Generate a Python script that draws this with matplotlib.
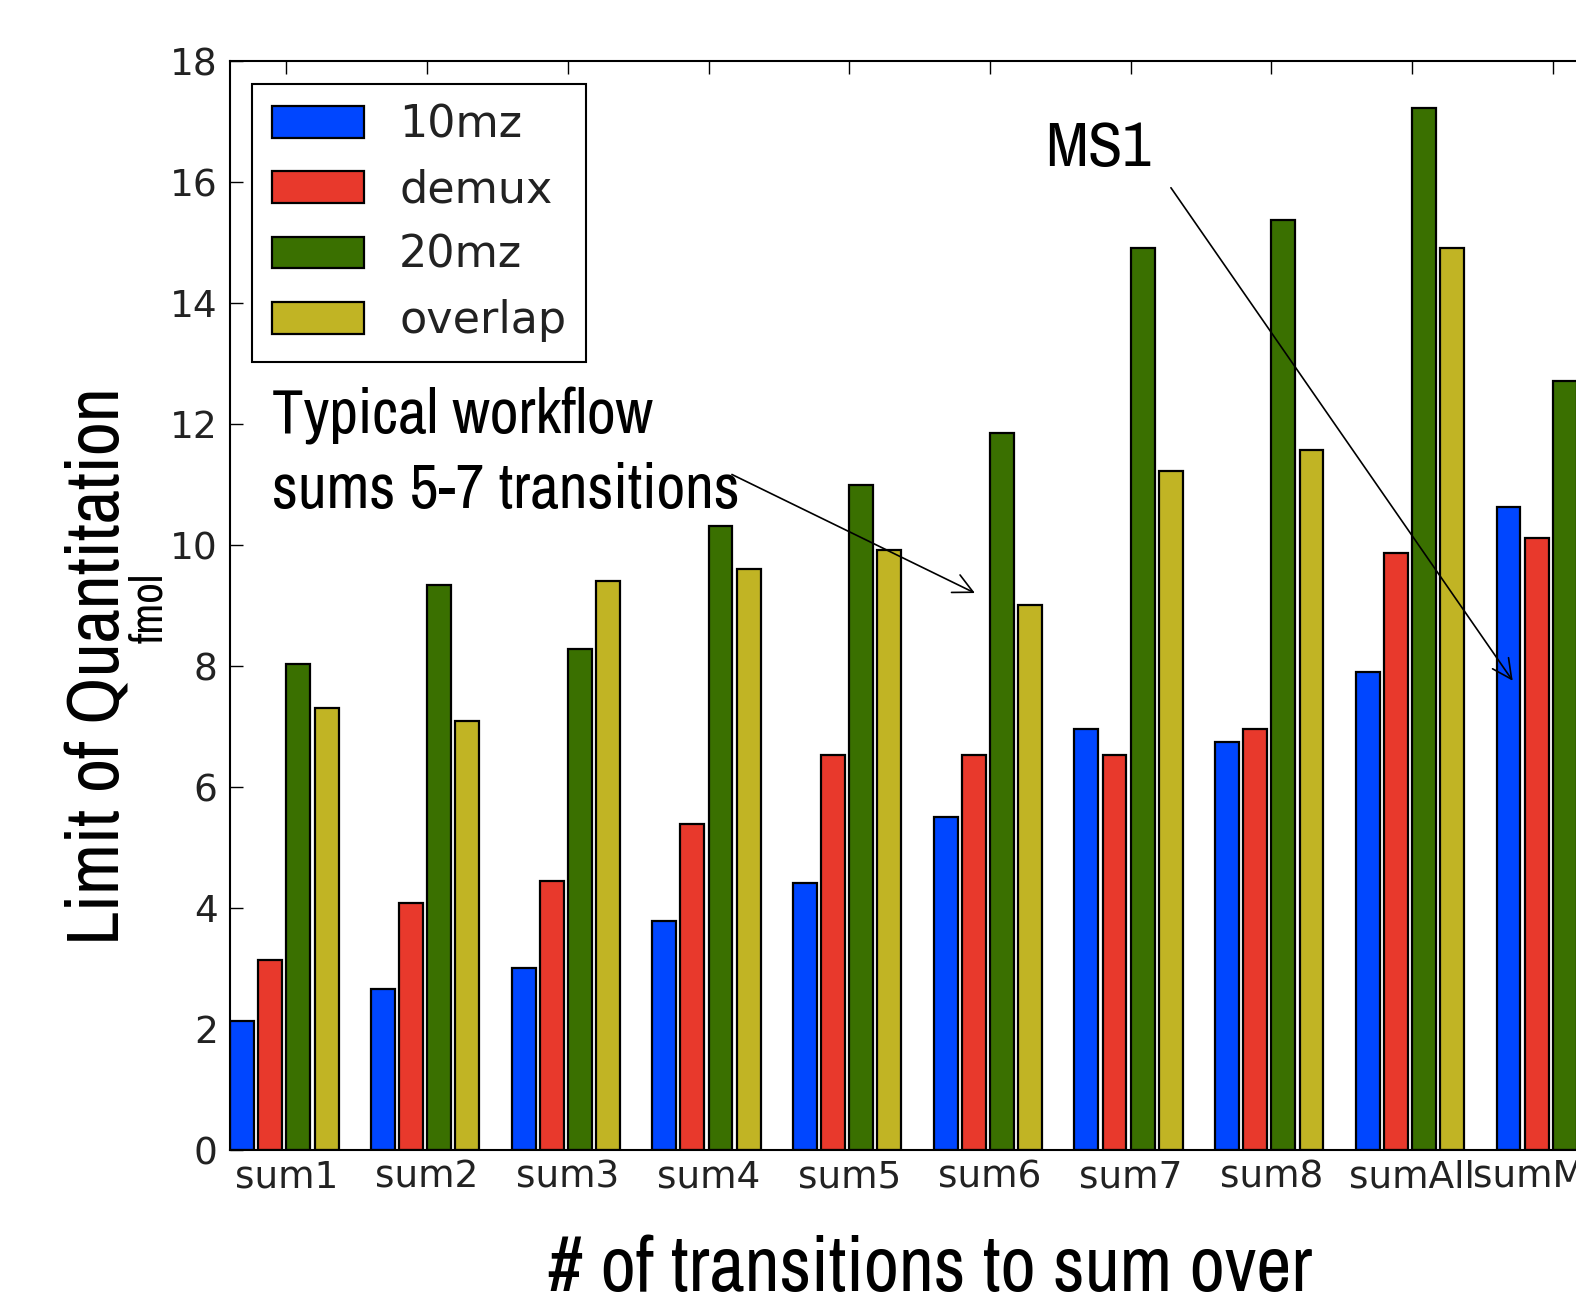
import numpy as np
import matplotlib
matplotlib.use("Agg")
import matplotlib.pyplot as plt
from matplotlib import font_manager as fm

# ---------------- data ----------------
categories = ["sum1", "sum2", "sum3", "sum4", "sum5", "sum6", "sum7", "sum8", "sumAll", "sumMS1"]
series_names = ["10mz", "demux", "20mz", "overlap"]
vals_10mz = [2.13, 2.66, 3.02, 3.79, 4.42, 5.50, 6.96, 6.75, 7.91, 10.64]
vals_demux = [3.14, 4.09, 4.45, 5.40, 6.53, 6.53, 6.53, 6.96, 9.87, 10.12]
vals_20mz = [8.03, 9.34, 8.28, 10.32, 10.99, 11.85, 14.92, 15.37, 17.22, 12.71]
vals_overlap = [7.31, 7.10, 9.41, 9.61, 9.92, 9.01, 11.22, 11.58, 14.92, 11.20]
yticks = [0, 2, 4, 6, 8, 10, 12, 14, 16, 18]

colors = ["#0046ff", "#e8392c", "#3a7000", "#c1b424"]

# ---------------- fonts ----------------
names = {f.name for f in fm.fontManager.ttflist}
NARROW = "Liberation Sans"
for cand in ["Liberation Sans Narrow", "Archivo Narrow", "Roboto Condensed", "PT Sans Narrow"]:
    if cand in names:
        NARROW = cand
        break

W, H = 1576, 1293
fig = plt.figure(figsize=(W / 100, H / 100), dpi=100)
fig.patch.set_facecolor("white")

# axes extends past the right edge of the figure (cropped like the reference)
left_px, right_px, top_px, bot_px = 230.2, 1637.2, 61.3, 1150.2
ax = fig.add_axes([left_px / W, 1 - bot_px / H, (right_px - left_px) / W, (bot_px - top_px) / H])

ind = np.arange(len(categories))
width = 0.17
all_vals = [vals_10mz, vals_demux, vals_20mz, vals_overlap]
for k, (v, c, n) in enumerate(zip(all_vals, colors, series_names)):
    ax.bar(ind + 0.2 * k, v, width, align="edge", color=c, edgecolor="black",
           linewidth=1.6, label=n, zorder=2)

ax.set_xlim(0, len(categories))
ax.set_ylim(0, 18)
ax.set_yticks(yticks)
ax.set_xticks(ind + 0.4)
ax.set_xticklabels(categories)
ax.tick_params(axis="both", direction="in", length=9.5, width=1.0, labelsize=27,
               top=True, right=True, colors="black")
ax.tick_params(axis="y", pad=9)
ax.tick_params(axis="x", pad=7)
for lab in ax.get_xticklabels() + ax.get_yticklabels():
    lab.set_color("#222222")
for s in ax.spines.values():
    s.set_linewidth(1.5)

leg = ax.legend(loc="upper left", fontsize=32, frameon=True, fancybox=False,
                handlelength=2.05, handleheight=0.72, handletextpad=0.8,
                labelspacing=0.5, borderpad=0.45, borderaxespad=0.5)
leg.get_frame().set_edgecolor("black")
leg.get_frame().set_linewidth(1.5)
leg.get_frame().set_alpha(1)
for t in leg.get_texts():
    t.set_color("#222222")

# arrows (data coordinates)
arrow_kw = dict(arrowstyle="->,head_length=0.7,head_width=0.35", lw=1.2,
                color="black", mutation_scale=20, shrinkA=0, shrinkB=0)
ax.annotate("", xy=(5.293, 9.21), xytext=(3.566, 11.17), arrowprops=arrow_kw, zorder=5)
ax.annotate("", xy=(9.115, 7.76), xytext=(6.686, 15.91), arrowprops=arrow_kw, zorder=5)


def fpx(x, y):
    return x / W, 1 - y / H


renderer = fig.canvas.get_renderer()


def fit(t, target, use_height=False):
    bb = t.get_window_extent(renderer)
    cur = bb.height if use_height else bb.width
    t.set_fontsize(t.get_fontsize() * target / cur)


# annotation texts (pixel positions from the reference)
t1 = fig.text(*fpx(272, 433), "Typical workflow", fontsize=40, family=NARROW,
              ha="left", va="baseline")
t2 = fig.text(*fpx(272, 508), "sums 5-7 transitions", fontsize=40, family=NARROW,
              ha="left", va="baseline")
fit(t2, 468)
t1.set_fontsize(t2.get_fontsize())

t3 = fig.text(*fpx(1045, 166), "MS1", fontsize=40, family=NARROW, ha="left", va="baseline")
fit(t3, 106)

# axis labels
yl = fig.text(*fpx(119.5, 666), "Limit of Quantitation", rotation=90, fontsize=50,
              family=NARROW, ha="center", va="baseline", rotation_mode="anchor")
fit(yl, 558, use_height=True)
fm_t = fig.text(*fpx(162, 608), "fmol", rotation=90, fontsize=24,
                family=NARROW, ha="center", va="baseline", rotation_mode="anchor")
fit(fm_t, 70, use_height=True)
xl = fig.text(*fpx(930, 1291), "# of transitions to sum over", fontsize=50,
              family=NARROW, ha="center", va="baseline")
fit(xl, 764)

fig.savefig("out.png", dpi=100, facecolor="white")
